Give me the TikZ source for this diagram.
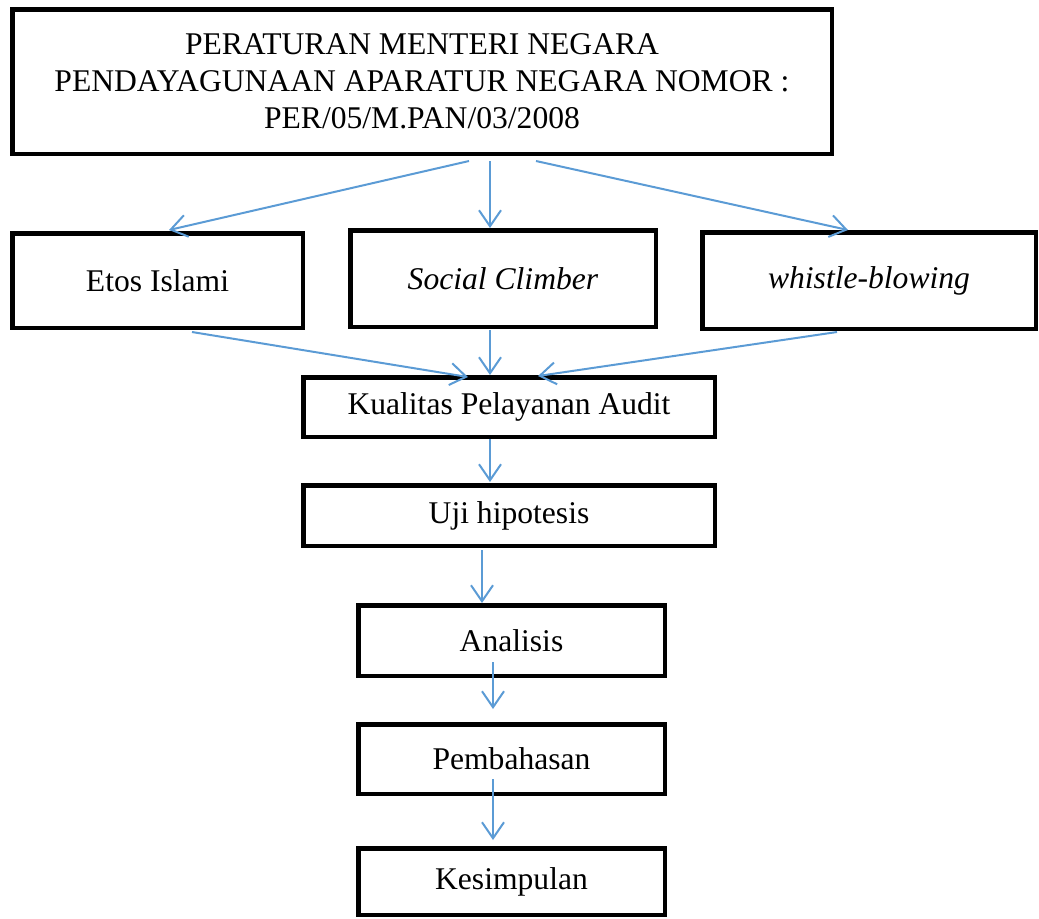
\documentclass[tikz,border=0pt]{standalone}
\usepackage{fontspec}
\setmainfont{Liberation Serif}
\usepackage{xcolor}
\usepackage{tikz}
\usetikzlibrary{shapes, arrows.meta, positioning, calc}
\definecolor{arrowblue}{HTML}{5B9BD5}

\begin{document}
\begin{tikzpicture}[x=0.5pt, y=-0.5pt,
            box/.style={draw, rectangle, line width=2.25pt, inner sep=0pt, align=center, font=\fontsize{15.8}{18.5}\selectfont},
            arrow/.style={-{Straight Barb[length=8pt, width=11pt]}, line width=1pt, arrowblue}]

            \useasboundingbox (0,0) rectangle (1039,918);

            \node[box, minimum width=409.75pt, minimum height=72.25pt] (peraturan) at (422,81.5) {PERATURAN MENTERI NEGARA\\PENDAYAGUNAAN APARATUR NEGARA NOMOR :\\PER/05/M.PAN/03/2008};
            \node[box, minimum width=145.25pt, minimum height=47.25pt] (etos) at (157.5,280.5) {Etos Islami};
            \node[box, minimum width=152.75pt, minimum height=48.25pt] (social) at (503,278.5) {\textit{Social Climber}};
            \node[box, minimum width=166.75pt, minimum height=48.25pt] (whistle) at (869,280.5) {\textit{whistle-blowing}};
            \node[box, minimum width=205.75pt, minimum height=29.75pt] (kualitas) at (509,407) {Kualitas Pelayanan Audit};
            \node[box, minimum width=205.75pt, minimum height=30.25pt] (uji) at (509,515.5) {Uji hipotesis};
            \node[box, minimum width=153.25pt, minimum height=35.25pt] (analisis) at (511.5,640.5) {Analisis};
            \node[box, minimum width=153.25pt, minimum height=34.75pt] (pembahasan) at (511.5,759) {Pembahasan};
            \node[box, minimum width=153.25pt, minimum height=33.25pt] (kesimpulan) at (511.5,881.5) {Kesimpulan};

            \draw[arrow] ($(peraturan.south)+(47,5)$) -- ($(etos.north)+(11.5,-1)$);
            \draw[arrow] ($(peraturan.south)+(68,5)$) -- ($(social.north)+(-13,0)$);
            \draw[arrow] ($(peraturan.south)+(114,5)$) -- ($(whistle.north)+(-21,0)$);
            \draw[arrow] ($(etos.south)+(34.5,2)$) -- ($(kualitas.north)+(-41,2)$);
            \draw[arrow] ($(social.south)+(-13,1)$) -- ($(kualitas.north)+(-19,0)$);
            \draw[arrow] ($(whistle.south)+(-32,1)$) -- ($(kualitas.north)+(29,1)$);
            \draw[arrow] ($(kualitas.south)+(-19,0)$) -- ($(uji.north)+(-19,-1)$);
            \draw[arrow] ($(uji.south)+(-27,2)$) -- ($(analisis.north)+(-29.5,0)$);
            \draw[arrow] ($(analisis.south)+(-18.5,-16)$) -- ($(pembahasan.north)+(-18.5,-13)$);
            \draw[arrow] ($(pembahasan.south)+(-18.5,-17)$) -- ($(kesimpulan.north)+(-18.5,-6)$);
        \end{tikzpicture}
\end{document}
